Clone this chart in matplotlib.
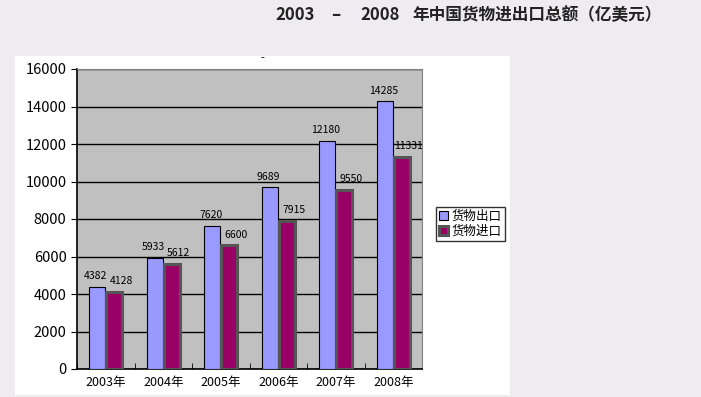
import numpy as np
import matplotlib.pyplot as plt
from matplotlib.patches import Rectangle

plt.rcParams['font.family'] = ['Noto Sans CJK SC', 'DejaVu Sans']

#----------------------------------DATA----------------------------------
years = ['2003年', '2004年', '2005年', '2006年', '2007年', '2008年']
exports = [4382, 5933, 7620, 9689, 12180, 14285]
imports = [4128, 5612, 6600, 7915, 9550, 11331]
series_names = ['货物出口', '货物进口']
title_parts = ['2003', '–', '2008', '年中国货物进出口总额（亿美元）']

#----------------------------------FIGURE----------------------------------
W, H = 701, 397
fig = plt.figure(figsize=(W / 100, H / 100), dpi=100)
fig.patch.set_facecolor('#eeecf0')

# area bianca del grafico
fig.patches.append(Rectangle((15 / W, 2 / H), 495 / W, 339 / H, transform=fig.transFigure,
                             facecolor='white', edgecolor='none', zorder=-10))

ax = fig.add_axes([77 / W, 28 / H, 345 / W, 300 / H])
ax.set_facecolor('#c0c0c0')

x = np.arange(len(years))
bw = 0.28
gap = 0.02
x_exp = x - bw / 2 - gap / 2
x_imp = x + bw / 2 + gap / 2
b1 = ax.bar(x_exp, exports, bw, color='#9999ff', edgecolor='black',
            linewidth=0.8, zorder=3, label=series_names[0])
b2 = ax.bar(x_imp, imports, bw, color='#990066', edgecolor='#555555',
            linewidth=2.2, zorder=3, label=series_names[1])

# etichette dei valori (quelle delle importazioni sono spostate a destra)
for xi, v in zip(x_exp, exports):
    ax.text(xi - 0.02, v + 300, str(v), ha='center', va='bottom', fontsize=7.5)
for xi, v in zip(x_imp, imports):
    ax.text(xi + 0.12, v + 300, str(v), ha='center', va='bottom', fontsize=7.5)

ax.set_xlim(-0.5, len(years) - 0.5)
ax.set_ylim(0, 16000)
ax.set_yticks(np.arange(0, 16001, 2000))
ax.yaxis.grid(True, color='black', linewidth=1, zorder=1)
ax.set_axisbelow(True)
ax.set_xticks(x)
ax.set_xticklabels(years, fontsize=9)
ax.set_xticks(np.arange(-0.5, len(years), 1), minor=True)
ax.tick_params(axis='x', which='major', length=0, pad=5)
ax.tick_params(axis='x', which='minor', length=4, direction='in')
ax.tick_params(axis='y', labelsize=10.5, length=4, direction='out')
for s in ['top', 'right']:
    ax.spines[s].set_color('#808080')
for s in ['left', 'bottom']:
    ax.spines[s].set_color('black')
    ax.spines[s].set_linewidth(1.2)

leg = fig.legend(handles=[b1, b2], labels=series_names, loc='upper left',
                 bbox_to_anchor=(436 / W, 1 - 207 / H), fontsize=9, frameon=True,
                 fancybox=False, edgecolor='black', handlelength=0.7, handleheight=0.7,
                 handletextpad=0.3, borderpad=0.25, labelspacing=0.15, borderaxespad=0)
leg.get_frame().set_linewidth(1)

# titolo in pezzi, con gli spazi larghi dell'originale
ty = 1 - 15 / H
fig.text(275 / W, ty, title_parts[0], ha='left', va='center', fontsize=12, fontweight='bold', color='#222222')
fig.text(336 / W, ty, title_parts[1], ha='center', va='center', fontsize=12, fontweight='bold', color='#222222')
fig.text(360 / W, ty, title_parts[2], ha='left', va='center', fontsize=12, fontweight='bold', color='#222222')
fig.text(412 / W, ty, title_parts[3], ha='left', va='center', fontsize=12, fontweight='bold', color='#222222')
fig.text(262 / W, 1 - 58 / H, '-', ha='center', va='center', fontsize=8)

fig.savefig('out.png', dpi=100, facecolor=fig.get_facecolor())
